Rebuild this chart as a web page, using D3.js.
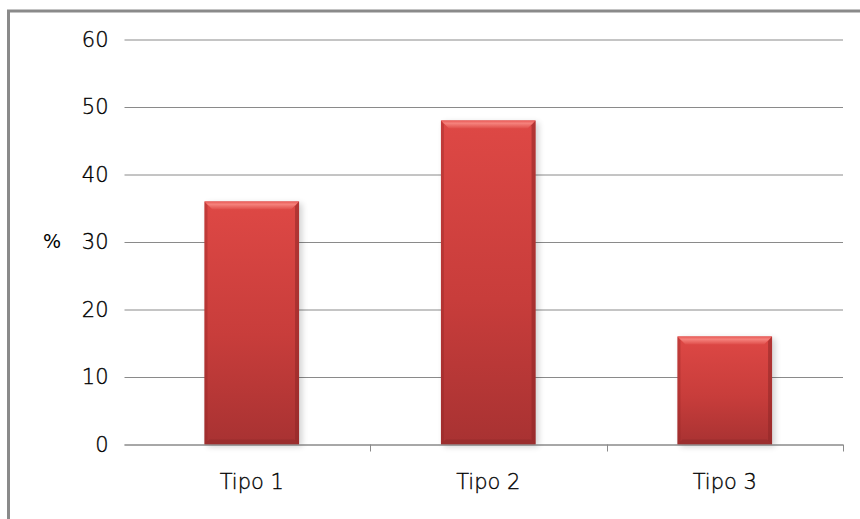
<!DOCTYPE html>
<html>
<head>
<meta charset="utf-8">
<script src="https://cdn.jsdelivr.net/npm/d3@7"></script>
<style>
  html, body { margin: 0; padding: 0; background: #fff; }
  svg { display: block; }
  text { font-family: "DejaVu Sans", sans-serif; fill: #000; }
</style>
</head>
<body>
<svg id="chart" width="860" height="519"></svg>
<script>
// Share of each type, in percent
const categories = ["Tipo 1", "Tipo 2", "Tipo 3"];
const values = [36, 48, 16];
const yTicks = [0, 10, 20, 30, 40, 50, 60];
const yLabel = "%";

const W = 860, H = 519;
const plot = { left: 133.5, right: 843, top: 39.5, bottom: 444.5 };
const labelFont = "'DejaVu Sans', sans-serif";

const svg = d3.select("#chart");

// Outer frame: only its top and left edges fall inside the page
svg.append("path")
  .attr("d", `M8.5,${H} L8.5,11 L${W},11`)
  .attr("fill", "none")
  .attr("stroke", "#8a8a8a")
  .attr("stroke-width", 3);

const x = d3.scaleBand()
  .domain(categories)
  .range([plot.left, plot.right])
  .paddingInner(0.6)
  .paddingOuter(0.3);

const y = d3.scaleLinear()
  .domain([0, 60])
  .range([plot.bottom, plot.top]);

// Gradients and shadow filter for the bevelled bars
const defs = svg.append("defs");
const face = defs.append("linearGradient").attr("id", "barFace")
  .attr("x1", 0).attr("y1", 0).attr("x2", 0).attr("y2", 1);
face.append("stop").attr("offset", "0%").attr("stop-color", "#de4845");
face.append("stop").attr("offset", "55%").attr("stop-color", "#c83d3b");
face.append("stop").attr("offset", "100%").attr("stop-color", "#a83232");

const topBevel = defs.append("linearGradient").attr("id", "topBevel")
  .attr("x1", 0).attr("y1", 0).attr("x2", 0).attr("y2", 1);
topBevel.append("stop").attr("offset", "0%").attr("stop-color", "#e85a56");
topBevel.append("stop").attr("offset", "35%").attr("stop-color", "#f5827c");
topBevel.append("stop").attr("offset", "100%").attr("stop-color", "#df4d49");

const shadow = defs.append("filter").attr("id", "barShadow")
  .attr("x", "-20%").attr("y", "-20%").attr("width", "140%").attr("height", "140%");
shadow.append("feGaussianBlur").attr("stdDeviation", 3);

// Horizontal gridlines, extended left as outside tick marks
const yAxis = d3.axisLeft(y)
  .tickValues(yTicks)
  .tickSize(-(plot.right - plot.left))
  .tickPadding(16)
  .tickFormat(d3.format("d"));

const gy = svg.append("g")
  .attr("transform", `translate(${plot.left},0)`)
  .call(yAxis);
gy.select(".domain").remove();
gy.selectAll(".tick line")
  .attr("x1", -9)
  .attr("stroke", "#8a8a8a")
  .attr("stroke-width", 1);
gy.selectAll(".tick text")
  .attr("x", -25)
  .style("font-size", "21px")
  .style("font-family", labelFont)
  .style("font-weight", 200)
  .attr("fill", "#000")
  .attr("stroke", "#000")
  .attr("stroke-width", 0.35);

// Bars
const bev = 8;
const bars = svg.append("g").selectAll("g")
  .data(categories.map((c, i) => ({ c, v: values[i] })))
  .join("g");

bars.append("rect")
  .attr("x", d => x(d.c) + 3)
  .attr("y", d => y(d.v) + 2)
  .attr("width", x.bandwidth())
  .attr("height", d => y(0) - y(d.v))
  .attr("fill", "#000")
  .attr("opacity", 0.18)
  .attr("filter", "url(#barShadow)");

bars.append("rect")
  .attr("x", d => x(d.c))
  .attr("y", d => y(d.v))
  .attr("width", x.bandwidth())
  .attr("height", d => y(0) - y(d.v))
  .attr("fill", "url(#barFace)");

// Bevel facets: top (light), left and right (dark), bottom (dark)
bars.append("path")
  .attr("fill", "url(#topBevel)")
  .attr("d", d => {
    const x0 = x(d.c), x1 = x0 + x.bandwidth(), t = y(d.v);
    return `M${x0},${t} L${x1},${t} L${x1 - bev},${t + bev} L${x0 + bev},${t + bev} Z`;
  });

bars.append("path")
  .attr("fill", "#8e2626")
  .attr("opacity", 0.55)
  .attr("d", d => {
    const x0 = x(d.c), x1 = x0 + x.bandwidth(), t = y(d.v), b = y(0);
    return `M${x1},${t} L${x1},${b} L${x1 - 4},${b - 4} L${x1 - 4},${t + bev * 0.6} Z`;
  });

bars.append("path")
  .attr("fill", "#8e2626")
  .attr("opacity", 0.35)
  .attr("d", d => {
    const x0 = x(d.c), t = y(d.v), b = y(0);
    return `M${x0},${t} L${x0 + 3},${t + bev * 0.5} L${x0 + 3},${b - 3} L${x0},${b} Z`;
  });

bars.append("path")
  .attr("fill", "#8e2a2a")
  .attr("opacity", 0.5)
  .attr("d", d => {
    const x0 = x(d.c), x1 = x0 + x.bandwidth(), b = y(0);
    return `M${x0},${b} L${x1},${b} L${x1 - 5},${b - 5} L${x0 + 5},${b - 5} Z`;
  });

// Category axis along zero
const xAxis = d3.axisBottom(x).tickSize(0).tickPadding(30);
const gx = svg.append("g")
  .attr("transform", `translate(0,${plot.bottom})`)
  .call(xAxis);
gx.select(".domain")
  .attr("d", `M${plot.left - 9},0.5 H${plot.right}`)
  .attr("stroke", "#8a8a8a");
gx.selectAll(".tick text")
  .style("font-size", "21px")
  .style("font-family", labelFont)
  .style("font-weight", 200)
  .attr("fill", "#000")
  .attr("stroke", "#000")
  .attr("stroke-width", 0.35);

// Tick marks between categories
const sep = d3.range(1, categories.length + 1).map(i => plot.left + i * (plot.right - plot.left) / categories.length);
svg.append("g").selectAll("line")
  .data(sep)
  .join("line")
  .attr("x1", d => Math.round(d) + 0.5)
  .attr("x2", d => Math.round(d) + 0.5)
  .attr("y1", plot.bottom)
  .attr("y2", plot.bottom + 7)
  .attr("stroke", "#8a8a8a");

// Y axis title
svg.append("text")
  .attr("x", 52)
  .attr("y", 248)
  .attr("text-anchor", "middle")
  .style("font-size", "19px")
  .text(yLabel);
</script>
</body>
</html>
